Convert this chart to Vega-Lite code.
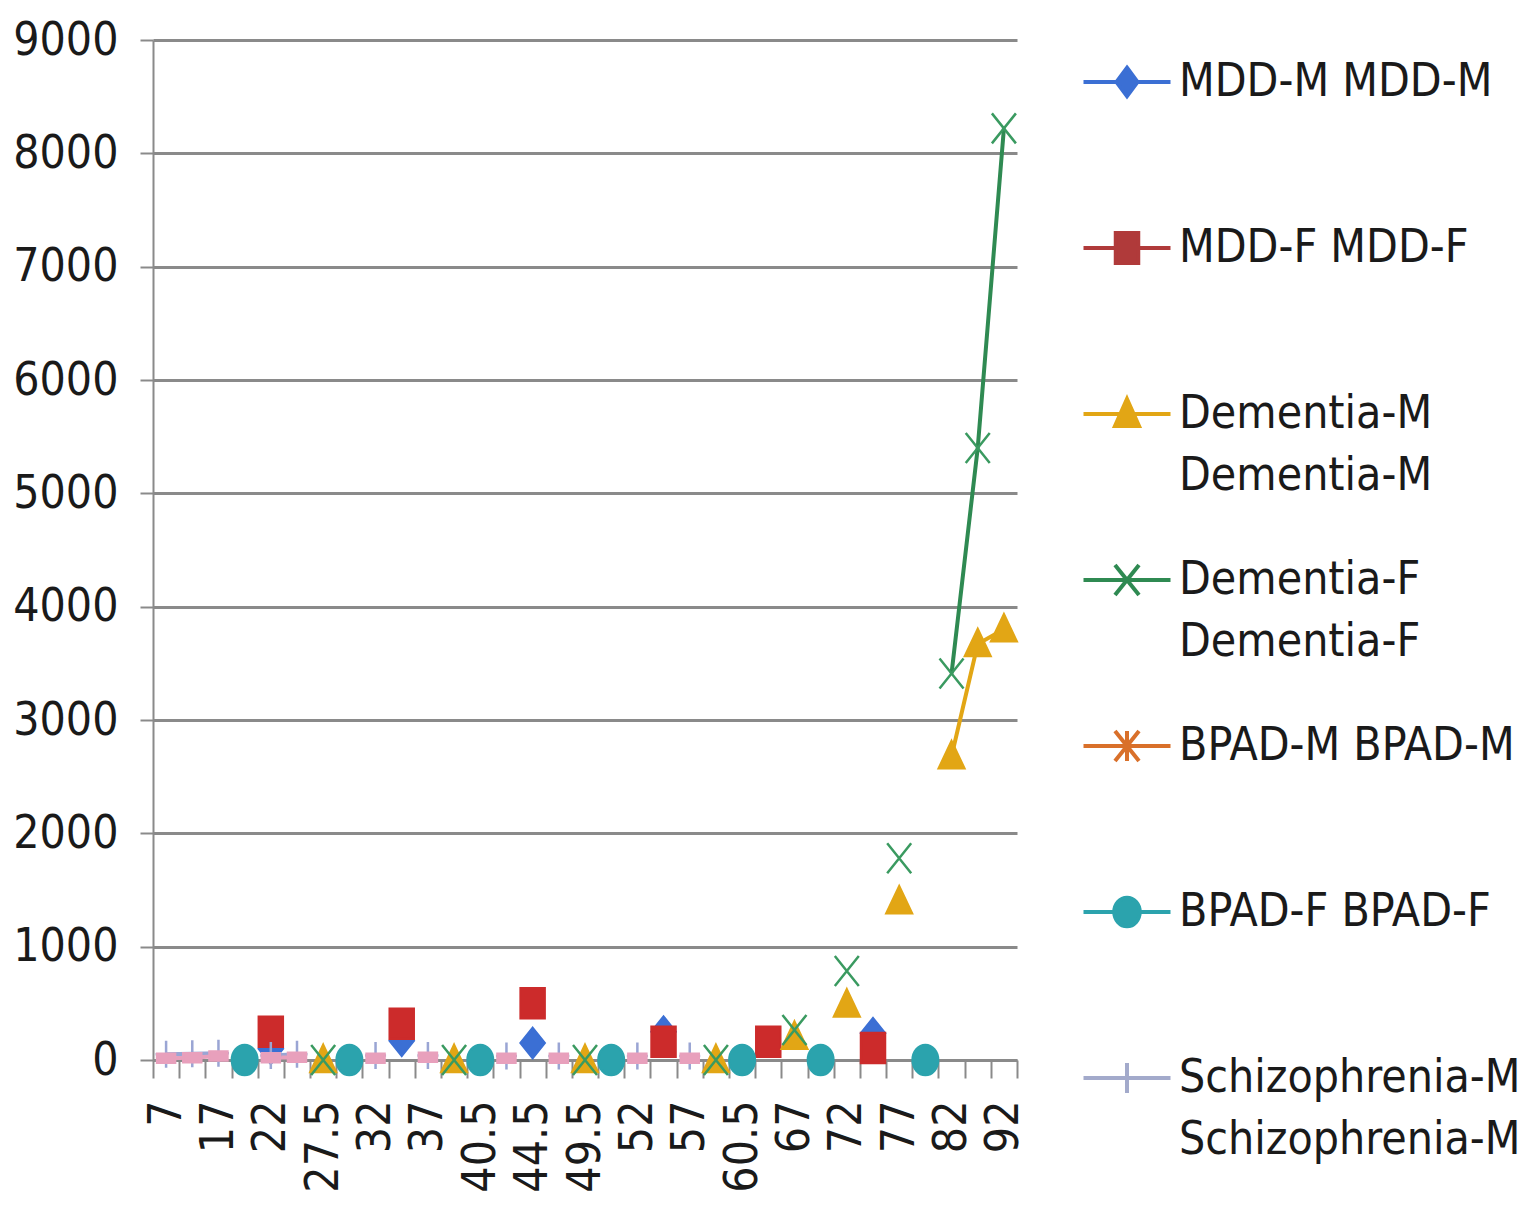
{
  "$schema": "https://vega.github.io/schema/vega-lite/v6.json",
  "width": 864,
  "height": 1020,
  "autosize": {"type": "none"},
  "padding": {"left": 153, "top": 40, "right": 520, "bottom": 165},
  "background": "white",
  "config": {
    "view": {"stroke": null},
    "font": "DejaVu Sans Condensed",
    "style": {"guide-label": {"lineHeight": 62}},
    "axis": {"labelFont": "DejaVu Sans Condensed", "labelFontSize": 46, "labelColor": "#1a1a1a", "title": null},
    "legend": {"labelFont": "DejaVu Sans Condensed", "labelFontSize": 46, "labelColor": "#1a1a1a"}
  },
  "data": {
    "values": [
      {"s": "MDD-M MDD-M", "age": 22, "v": 100},
      {"s": "MDD-M MDD-M", "age": 24.5, "v": null},
      {"s": "MDD-M MDD-M", "age": 34.5, "v": 170},
      {"s": "MDD-M MDD-M", "age": 37, "v": null},
      {"s": "MDD-M MDD-M", "age": 44.5, "v": 150},
      {"s": "MDD-M MDD-M", "age": 47, "v": null},
      {"s": "MDD-M MDD-M", "age": 54.5, "v": 250},
      {"s": "MDD-M MDD-M", "age": 57, "v": null},
      {"s": "MDD-M MDD-M", "age": 74.5, "v": 235},
      {"s": "MDD-F MDD-F", "age": 22, "v": 250},
      {"s": "MDD-F MDD-F", "age": 24.5, "v": null},
      {"s": "MDD-F MDD-F", "age": 34.5, "v": 320},
      {"s": "MDD-F MDD-F", "age": 37, "v": null},
      {"s": "MDD-F MDD-F", "age": 44.5, "v": 500},
      {"s": "MDD-F MDD-F", "age": 47, "v": null},
      {"s": "MDD-F MDD-F", "age": 54.5, "v": 160},
      {"s": "MDD-F MDD-F", "age": 57, "v": null},
      {"s": "MDD-F MDD-F", "age": 62, "v": 160},
      {"s": "MDD-F MDD-F", "age": 67, "v": null},
      {"s": "MDD-F MDD-F", "age": 74.5, "v": 105},
      {"s": "Dementia-M Dementia-M", "age": 27.5, "v": 0},
      {"s": "Dementia-M Dementia-M", "age": 30, "v": null},
      {"s": "Dementia-M Dementia-M", "age": 39, "v": 0},
      {"s": "Dementia-M Dementia-M", "age": 40.5, "v": null},
      {"s": "Dementia-M Dementia-M", "age": 49.5, "v": 0},
      {"s": "Dementia-M Dementia-M", "age": 50.5, "v": null},
      {"s": "Dementia-M Dementia-M", "age": 59, "v": 0},
      {"s": "Dementia-M Dementia-M", "age": 60.5, "v": null},
      {"s": "Dementia-M Dementia-M", "age": 67, "v": 205},
      {"s": "Dementia-M Dementia-M", "age": 69.5, "v": null},
      {"s": "Dementia-M Dementia-M", "age": 72, "v": 490},
      {"s": "Dementia-M Dementia-M", "age": 74.5, "v": null},
      {"s": "Dementia-M Dementia-M", "age": 77, "v": 1400},
      {"s": "Dementia-M Dementia-M", "age": 79.5, "v": null},
      {"s": "Dementia-M Dementia-M", "age": 82, "v": 2680},
      {"s": "Dementia-M Dementia-M", "age": 87, "v": 3670},
      {"s": "Dementia-M Dementia-M", "age": 92, "v": 3800},
      {"s": "Dementia-F Dementia-F", "age": 27.5, "v": 0},
      {"s": "Dementia-F Dementia-F", "age": 30, "v": null},
      {"s": "Dementia-F Dementia-F", "age": 39, "v": 0},
      {"s": "Dementia-F Dementia-F", "age": 40.5, "v": null},
      {"s": "Dementia-F Dementia-F", "age": 49.5, "v": 0},
      {"s": "Dementia-F Dementia-F", "age": 50.5, "v": null},
      {"s": "Dementia-F Dementia-F", "age": 59, "v": 0},
      {"s": "Dementia-F Dementia-F", "age": 60.5, "v": null},
      {"s": "Dementia-F Dementia-F", "age": 67, "v": 265},
      {"s": "Dementia-F Dementia-F", "age": 69.5, "v": null},
      {"s": "Dementia-F Dementia-F", "age": 72, "v": 785},
      {"s": "Dementia-F Dementia-F", "age": 74.5, "v": null},
      {"s": "Dementia-F Dementia-F", "age": 77, "v": 1780},
      {"s": "Dementia-F Dementia-F", "age": 79.5, "v": null},
      {"s": "Dementia-F Dementia-F", "age": 82, "v": 3410},
      {"s": "Dementia-F Dementia-F", "age": 87, "v": 5400},
      {"s": "Dementia-F Dementia-F", "age": 92, "v": 8220},
      {"s": "BPAD-F BPAD-F", "age": 19.5, "v": 0},
      {"s": "BPAD-F BPAD-F", "age": 22, "v": null},
      {"s": "BPAD-F BPAD-F", "age": 30, "v": 0},
      {"s": "BPAD-F BPAD-F", "age": 32, "v": null},
      {"s": "BPAD-F BPAD-F", "age": 40.5, "v": 0},
      {"s": "BPAD-F BPAD-F", "age": 42.5, "v": null},
      {"s": "BPAD-F BPAD-F", "age": 50.5, "v": 0},
      {"s": "BPAD-F BPAD-F", "age": 52, "v": null},
      {"s": "BPAD-F BPAD-F", "age": 60.5, "v": 0},
      {"s": "BPAD-F BPAD-F", "age": 62, "v": null},
      {"s": "BPAD-F BPAD-F", "age": 69.5, "v": 0},
      {"s": "BPAD-F BPAD-F", "age": 72, "v": null},
      {"s": "BPAD-F BPAD-F", "age": 79.5, "v": 0},
      {"s": "Schizophrenia-M Schizophrenia-M", "age": 7, "v": 50},
      {"s": "Schizophrenia-M Schizophrenia-M", "age": 12, "v": 55},
      {"s": "Schizophrenia-M Schizophrenia-M", "age": 17, "v": 60},
      {"s": "Schizophrenia-M Schizophrenia-M", "age": 19.5, "v": null},
      {"s": "Schizophrenia-M Schizophrenia-M", "age": 22, "v": 40},
      {"s": "Schizophrenia-M Schizophrenia-M", "age": 24.5, "v": 50},
      {"s": "Schizophrenia-M Schizophrenia-M", "age": 27.5, "v": null},
      {"s": "Schizophrenia-M Schizophrenia-M", "age": 32, "v": 40},
      {"s": "Schizophrenia-M Schizophrenia-M", "age": 34.5, "v": null},
      {"s": "Schizophrenia-M Schizophrenia-M", "age": 37, "v": 40},
      {"s": "Schizophrenia-M Schizophrenia-M", "age": 39, "v": null},
      {"s": "Schizophrenia-M Schizophrenia-M", "age": 42.5, "v": 35},
      {"s": "Schizophrenia-M Schizophrenia-M", "age": 44.5, "v": null},
      {"s": "Schizophrenia-M Schizophrenia-M", "age": 47, "v": 35},
      {"s": "Schizophrenia-M Schizophrenia-M", "age": 49.5, "v": null},
      {"s": "Schizophrenia-M Schizophrenia-M", "age": 52, "v": 35},
      {"s": "Schizophrenia-M Schizophrenia-M", "age": 54.5, "v": null},
      {"s": "Schizophrenia-M Schizophrenia-M", "age": 57, "v": 35},
      {"s": "Schizophrenia-F Schizophrenia-F", "age": 7, "v": 15},
      {"s": "Schizophrenia-F Schizophrenia-F", "age": 12, "v": 20},
      {"s": "Schizophrenia-F Schizophrenia-F", "age": 17, "v": 35},
      {"s": "Schizophrenia-F Schizophrenia-F", "age": 19.5, "v": null},
      {"s": "Schizophrenia-F Schizophrenia-F", "age": 22, "v": 20},
      {"s": "Schizophrenia-F Schizophrenia-F", "age": 24.5, "v": 25},
      {"s": "Schizophrenia-F Schizophrenia-F", "age": 27.5, "v": null},
      {"s": "Schizophrenia-F Schizophrenia-F", "age": 32, "v": 15},
      {"s": "Schizophrenia-F Schizophrenia-F", "age": 34.5, "v": null},
      {"s": "Schizophrenia-F Schizophrenia-F", "age": 37, "v": 25},
      {"s": "Schizophrenia-F Schizophrenia-F", "age": 39, "v": null},
      {"s": "Schizophrenia-F Schizophrenia-F", "age": 42.5, "v": 15},
      {"s": "Schizophrenia-F Schizophrenia-F", "age": 44.5, "v": null},
      {"s": "Schizophrenia-F Schizophrenia-F", "age": 47, "v": 15},
      {"s": "Schizophrenia-F Schizophrenia-F", "age": 49.5, "v": null},
      {"s": "Schizophrenia-F Schizophrenia-F", "age": 52, "v": 15},
      {"s": "Schizophrenia-F Schizophrenia-F", "age": 54.5, "v": null},
      {"s": "Schizophrenia-F Schizophrenia-F", "age": 57, "v": 15}
    ]
  },
  "encoding": {
    "x": {
      "field": "age",
      "type": "ordinal",
      "scale": {
        "type": "band",
        "paddingInner": 0,
        "paddingOuter": 0,
        "domain": [7, 12, 17, 19.5, 22, 24.5, 27.5, 30, 32, 34.5, 37, 39, 40.5, 42.5, 44.5, 47, 49.5, 50.5, 52, 54.5, 57, 59, 60.5, 62, 67, 69.5, 72, 74.5, 77, 79.5, 82, 87, 92]
      },
      "axis": {
        "tickBand": "extent",
        "labelExpr": "indexof([7,17,22,27.5,32,37,40.5,44.5,49.5,52,57,60.5,67,72,77,82,92], datum.value) >= 0 ? datum.label : ''",
        "labelAngle": -90,
        "labelOverlap": false,
        "labelPadding": 22,
        "tickSize": 18,
        "tickColor": "#8a8a8a",
        "tickWidth": 2,
        "domainColor": "#8a8a8a",
        "domainWidth": 2,
        "grid": false
      }
    },
    "y": {
      "field": "v",
      "type": "quantitative",
      "scale": {"domain": [0, 9000], "nice": false},
      "axis": {
        "values": [0, 1000, 2000, 3000, 4000, 5000, 6000, 7000, 8000, 9000],
        "grid": true,
        "gridColor": "#8a8a8a",
        "gridWidth": 3,
        "domainColor": "#8a8a8a",
        "domainWidth": 2,
        "tickColor": "#8a8a8a",
        "tickWidth": 2,
        "tickSize": 13,
        "labelPadding": 22,
        "format": "d"
      }
    }
  },
  "resolve": {"scale": {"color": "independent", "shape": "independent", "stroke": "independent"}},
  "layer": [
    {
      "mark": {"type": "line", "strokeWidth": 4, "invalid": "break-paths-filter-domains"},
      "encoding": {
        "color": {
          "field": "s",
          "type": "nominal",
          "scale": {
            "domain": ["MDD-M MDD-M", "MDD-F MDD-F", "Dementia-M Dementia-M", "Dementia-F Dementia-F", "BPAD-M BPAD-M", "BPAD-F BPAD-F", "Schizophrenia-M Schizophrenia-M", "Schizophrenia-F Schizophrenia-F"],
            "range": ["#3B6FD4", "#CC2B2B", "#E2A615", "#2F8A52", "#E2772A", "#2BA3AD", "#9AA5D4", "#E8A0BC"]
          },
          "legend": null
        }
      }
    },
    {
      "mark": {"type": "point", "filled": true, "opacity": 1, "size": 900, "strokeWidth": 2.5, "invalid": "filter"},
      "encoding": {
        "color": {
          "field": "s",
          "type": "nominal",
          "scale": {
            "domain": ["MDD-M MDD-M", "MDD-F MDD-F", "Dementia-M Dementia-M", "Dementia-F Dementia-F", "BPAD-M BPAD-M", "BPAD-F BPAD-F", "Schizophrenia-M Schizophrenia-M", "Schizophrenia-F Schizophrenia-F"],
            "range": ["#3B6FD4", "#CC2B2B", "#E2A615", "#3A9A60", "#E2772A", "#2BA3AD", "#9AA5D4", "#E8A0BC"]
          },
          "legend": null
        },
        "shape": {
          "field": "s",
          "type": "nominal",
          "scale": {
            "domain": ["MDD-M MDD-M", "MDD-F MDD-F", "Dementia-M Dementia-M", "Dementia-F Dementia-F", "BPAD-M BPAD-M", "BPAD-F BPAD-F", "Schizophrenia-M Schizophrenia-M", "Schizophrenia-F Schizophrenia-F"],
            "range": [
              "M0,-1L0.8,0L0,1L-0.8,0Z",
              "M-0.8,-1H0.8V1H-0.8Z",
              "M0,-1L0.85,0.8H-0.85Z",
              "M-0.8,-1L0.8,1M-0.8,1L0.8,-1",
              "M-0.8,-1L0.8,1M-0.8,1L0.8,-1M0,-1V1",
              "M-0.85,0A0.85,1 0 1,0 0.85,0A0.85,1 0 1,0 -0.85,0Z",
              "M-0.7,0H0.7M0,-0.9V0.9",
              "M-0.6,-0.3H0.6V0.3H-0.6Z"
            ]
          },
          "legend": null
        },
        "stroke": {
          "field": "s",
          "type": "nominal",
          "scale": {
            "domain": ["MDD-M MDD-M", "MDD-F MDD-F", "Dementia-M Dementia-M", "Dementia-F Dementia-F", "BPAD-M BPAD-M", "BPAD-F BPAD-F", "Schizophrenia-M Schizophrenia-M", "Schizophrenia-F Schizophrenia-F"],
            "range": ["#3B6FD4", "#CC2B2B", "#E2A615", "#3A9A60", "#E2772A", "#2BA3AD", "#9AA5D4", "#E8A0BC"]
          },
          "legend": null
        }
      }
    },
    {
      "transform": [{"filter": "false"}],
      "mark": {"type": "point", "filled": true, "opacity": 1, "size": 900, "strokeWidth": 4},
      "encoding": {
        "color": {
          "field": "s",
          "type": "nominal",
          "scale": {
            "domain": ["MDD-M MDD-M", "MDD-F MDD-F", "Dementia-M Dementia-M", "Dementia-F Dementia-F", "BPAD-M BPAD-M", "BPAD-F BPAD-F", "Schizophrenia-M Schizophrenia-M"],
            "range": ["#3B6FD4", "#B03A3A", "#E2A615", "#2F8A52", "#D9702A", "#2BA3AD", "#A3AACB"]
          },
          "legend": {
            "title": null, "orient": "none", "legendX": 951, "legendY": 19, "padding": 0,
            "symbolSize": 900, "symbolStrokeWidth": 4, "labelOffset": 29, "rowPadding": 58, "labelLimit": 600,
            "labelExpr": "length(datum.label) > 14 ? split(datum.label, ' ') : [datum.label, '']"
          }
        },
        "shape": {
          "field": "s",
          "type": "nominal",
          "scale": {
            "domain": ["MDD-M MDD-M", "MDD-F MDD-F", "Dementia-M Dementia-M", "Dementia-F Dementia-F", "BPAD-M BPAD-M", "BPAD-F BPAD-F", "Schizophrenia-M Schizophrenia-M"],
            "range": [
              "M-2.9,0H2.9M0,-0.95L0.7,0L0,0.95L-0.7,0Z",
              "M-2.9,0H2.9M-0.75,-1H0.75V1H-0.75Z",
              "M-2.9,0H2.9M0,-1L0.8,0.8H-0.8Z",
              "M-2.9,0H2.9M-0.8,-1L0.8,1M-0.8,1L0.8,-1",
              "M-2.9,0H2.9M-0.8,-1L0.8,1M-0.8,1L0.8,-1M0,-1V1",
              "M-2.9,0H2.9M-0.85,0A0.85,0.95 0 1,0 0.85,0A0.85,0.95 0 1,0 -0.85,0Z",
              "M-2.9,0H2.9M0,-1V1"
            ]
          },
          "legend": {
            "title": null, "orient": "none", "legendX": 951, "legendY": 19, "padding": 0,
            "symbolSize": 900, "symbolStrokeWidth": 4, "labelOffset": 29, "rowPadding": 58, "labelLimit": 600,
            "labelExpr": "length(datum.label) > 14 ? split(datum.label, ' ') : [datum.label, '']"
          }
        },
        "stroke": {
          "field": "s",
          "type": "nominal",
          "scale": {
            "domain": ["MDD-M MDD-M", "MDD-F MDD-F", "Dementia-M Dementia-M", "Dementia-F Dementia-F", "BPAD-M BPAD-M", "BPAD-F BPAD-F", "Schizophrenia-M Schizophrenia-M"],
            "range": ["#3B6FD4", "#B03A3A", "#E2A615", "#2F8A52", "#D9702A", "#2BA3AD", "#A3AACB"]
          },
          "legend": {
            "title": null, "orient": "none", "legendX": 951, "legendY": 19, "padding": 0,
            "symbolSize": 900, "symbolStrokeWidth": 4, "labelOffset": 29, "rowPadding": 58, "labelLimit": 600,
            "labelExpr": "length(datum.label) > 14 ? split(datum.label, ' ') : [datum.label, '']"
          }
        }
      }
    }
  ]
}
